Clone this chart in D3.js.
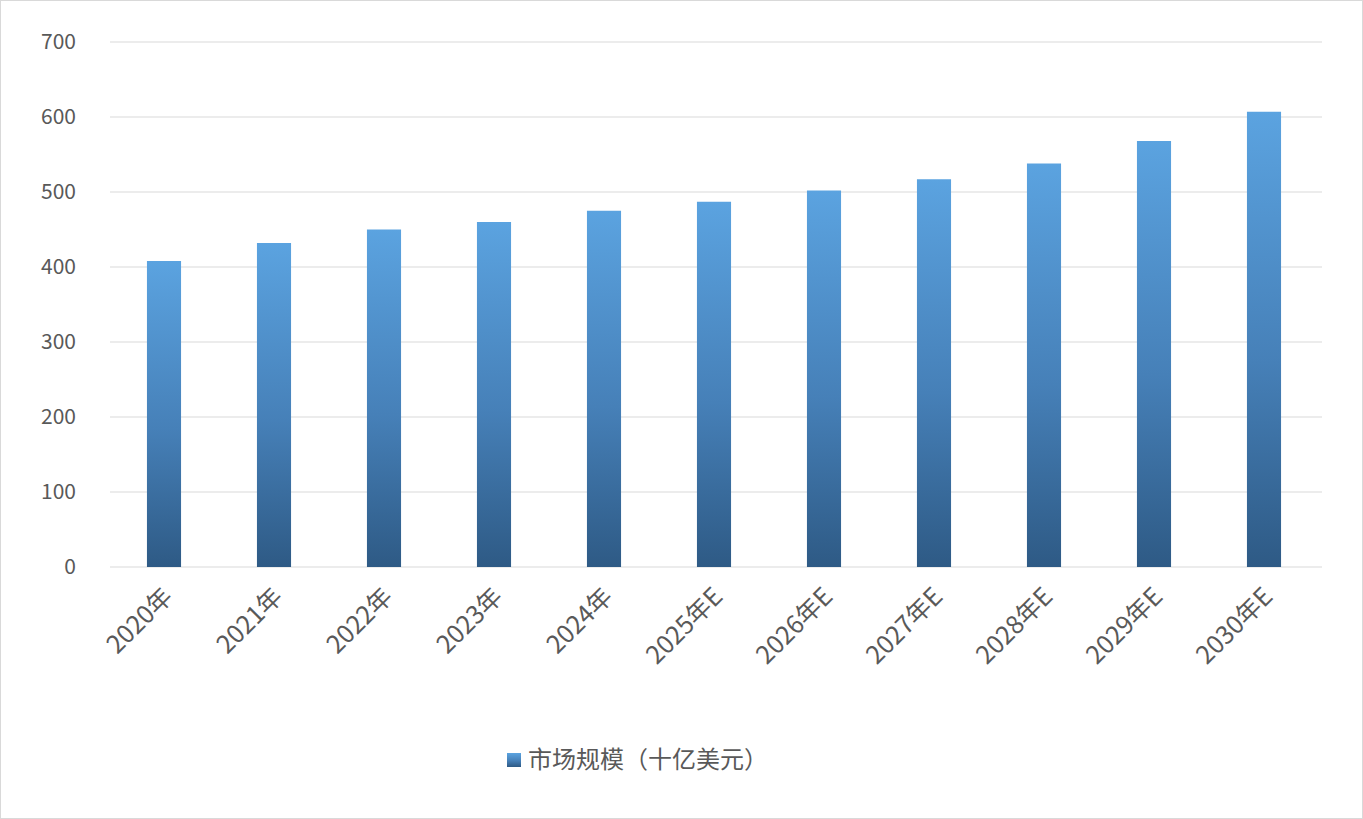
<!DOCTYPE html>
<html><head><meta charset="utf-8">
<script src="https://cdn.jsdelivr.net/npm/d3@7"></script>
<style>body{margin:0;background:#fff}svg{display:block}</style>
</head><body><div id="chart"></div>
<script>
const categories = ["2020年","2021年","2022年","2023年","2024年","2025年E","2026年E","2027年E","2028年E","2029年E","2030年E"];
const values = [408, 432, 450, 460, 475, 487, 502, 517, 538, 568, 607];
const yTicks = [0,100,200,300,400,500,600,700];
const seriesName = "市场规模（十亿美元）";

const W = 1363, H = 819;
const svg = d3.select("#chart").append("svg").attr("width", W).attr("height", H)
  .style("font-family", "'Noto Sans CJK SC', 'Noto Sans', sans-serif");

svg.append("rect").attr("x",0.5).attr("y",0.5).attr("width",W-1).attr("height",H-1)
  .attr("fill","#fff").attr("stroke","#d9d9d9");

const defs = svg.append("defs");
const grad = defs.append("linearGradient").attr("id","barGrad").attr("x1",0).attr("y1",0).attr("x2",0).attr("y2",1);
grad.append("stop").attr("offset","0%").attr("stop-color","#5ba3e0");
grad.append("stop").attr("offset","55%").attr("stop-color","#4680b8");
grad.append("stop").attr("offset","100%").attr("stop-color","#2e5a85");

const x = d3.scaleBand().domain(categories).range([109, 1319]).paddingInner(0.69).paddingOuter(0.345);
const y = d3.scaleLinear().domain([0, 700]).range([567, 42]);

// gridlines
svg.append("g").selectAll("line").data(yTicks).join("line")
  .attr("x1", 110).attr("x2", 1322)
  .attr("y1", d => y(d)).attr("y2", d => y(d))
  .attr("stroke", "#d9d9d9").attr("stroke-width", 1);

// y labels
svg.append("g").selectAll("text").data(yTicks).join("text")
  .attr("x", 76).attr("y", d => y(d)).attr("dy", "0.35em")
  .attr("text-anchor", "end").attr("font-size", 21).attr("fill", "#595959")
  .text(d => d);

// bars
svg.append("g").selectAll("rect").data(values).join("rect")
  .attr("x", (d, i) => x(categories[i]))
  .attr("y", d => y(d))
  .attr("width", x.bandwidth())
  .attr("height", d => y(0) - y(d))
  .attr("fill", "url(#barGrad)");

// x labels
svg.append("g").selectAll("text").data(categories).join("text")
  .attr("transform", d => `translate(${x(d) + x.bandwidth()/2 + 4},${592}) rotate(-45)`)
  .attr("text-anchor", "end").attr("dy", "0.35em")
  .attr("font-size", 25).attr("fill", "#595959")
  .text(d => d);

// legend
svg.append("rect").attr("x", 507).attr("y", 753).attr("width", 14).attr("height", 14).attr("fill", "url(#barGrad)");
svg.append("text").attr("x", 528).attr("y", 760).attr("dy", "0.35em")
  .attr("font-size", 24).attr("fill", "#595959").text(seriesName);
</script></body></html>
